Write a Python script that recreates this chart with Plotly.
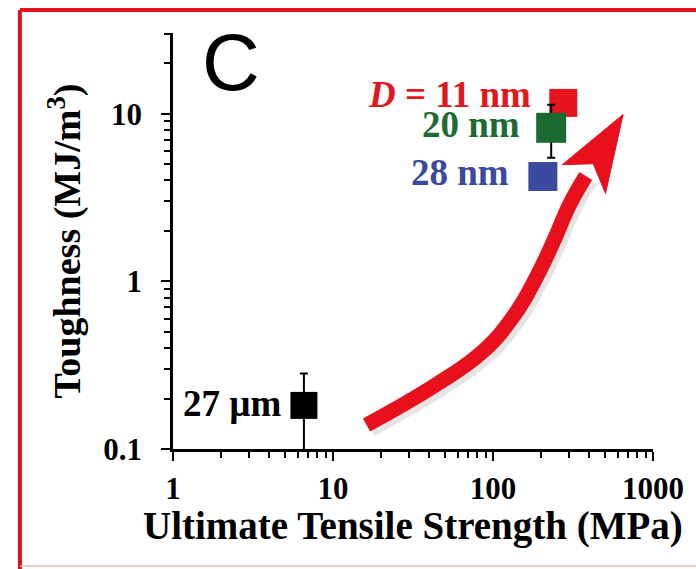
import numpy as np
import plotly.graph_objects as go

# ---- data ----
labels = ["27 µm", "<i>D</i> = 11 nm", "28 nm", "20 nm"]
strength = [6.58, 275, 205, 231]          # MPa
toughness = [0.182, 11.6, 4.22, 8.24]     # MJ/m^3
err_plus = [0.100, 0.0, 0.0, 3.06]
err_minus = [0.102, 0.0, 0.0, 2.77]
colors = ["#000000", "#e5141f", "#3b4aa0", "#1b6a30"]
text_colors = ["#000000", "#e3161e", "#3a4aa0", "#1d6b31"]
marker_sizes = [27, 28, 29, 30]
label_xshift = [-20, -30, -32, -29]
label_yshift = [2, 8, 4, 3]

x_ticks = [1, 10, 100, 1000]
y_ticks = [0.1, 1, 10]
y_tick_text = ["0.1", "1", "10"]

# trend arrow path (data coordinates)
arrow_x = [16.2, 43.5, 86, 136, 186, 240, 300, 380]
arrow_y = [0.139, 0.240, 0.380, 0.630, 1.05, 1.75, 2.85, 4.25]
arrow_tip = (650, 9.9)

serif = "Liberation Serif"
fig = go.Figure()

RED = "#e8101c"
# soft shadow of the arrow
fig.add_trace(go.Scatter(x=[v * 1.06 for v in arrow_x], y=[v * 0.945 for v in arrow_y], mode="lines",
                         line=dict(color="rgba(0,0,0,0.10)", width=16, shape="spline", smoothing=1.2),
                         hoverinfo="skip", showlegend=False))
# arrow shaft
fig.add_trace(go.Scatter(x=arrow_x, y=arrow_y, mode="lines",
                         line=dict(color=RED, width=15, shape="spline", smoothing=1.2),
                         hoverinfo="skip", showlegend=False))
# arrow head polygon computed in log space
lx, ly = np.log10(arrow_x[-1]), np.log10(arrow_y[-1])
tx, ty = np.log10(arrow_tip[0]), np.log10(arrow_tip[1])
d = np.array([tx - lx, ty - ly])
L = np.hypot(*d)
u = d / L
n = np.array([-u[1], u[0]])
hw = 0.16
T = np.array([tx, ty])
B = np.array([lx, ly])
pts = [T, B + hw * n - 0.05 * L * u, B + 0.2 * L * u, B - hw * n - 0.05 * L * u, T]
hx = [10 ** p[0] for p in pts]
hy = [10 ** p[1] for p in pts]
fig.add_trace(go.Scatter(x=hx, y=hy, mode="lines", fill="toself",
                         fillcolor=RED, line=dict(color=RED, width=1),
                         hoverinfo="skip", showlegend=False))

# data points
for i in range(len(labels)):
    fig.add_trace(go.Scatter(
        x=[strength[i]], y=[toughness[i]], mode="markers",
        marker=dict(symbol="square", size=marker_sizes[i], color=colors[i], line=dict(width=0)),
        error_y=dict(type="data", symmetric=False, array=[err_plus[i]], arrayminus=[err_minus[i]],
                     color="black", thickness=2, width=4, visible=err_plus[i] > 0),
        showlegend=False, hoverinfo="skip"))
    fig.add_annotation(x=np.log10(strength[i]), y=np.log10(toughness[i]), xref="x", yref="y",
                       text=labels[i], showarrow=False, xanchor="right", yanchor="middle",
                       xshift=label_xshift[i], yshift=label_yshift[i],
                       font=dict(family=serif, size=37, color=text_colors[i], weight="bold"))

minor_x = [m * 10 ** e for e in range(0, 3) for m in range(2, 10)]
minor_y = [m * 10 ** e for e in range(-1, 2) for m in range(2, 10) if m * 10 ** e <= 30]

fig.update_xaxes(type="log", range=[0, 3], tickvals=x_ticks, ticktext=[str(v) for v in x_ticks],
                 showline=True, linecolor="black", linewidth=2.5, showgrid=False, zeroline=False,
                 ticks="outside", ticklen=9, tickwidth=2, tickcolor="black",
                 ticklabelstandoff=1,
                 tickfont=dict(family=serif, size=31, color="black", weight="bold"),
                 minor=dict(tickvals=minor_x, ticks="outside", ticklen=6, tickwidth=1.5,
                            tickcolor="black", showgrid=False))
fig.update_yaxes(type="log", range=[-1, np.log10(30.3)], tickvals=y_ticks, ticktext=y_tick_text,
                 showline=True, linecolor="black", linewidth=2.5, showgrid=False, zeroline=False,
                 ticks="outside", ticklen=9, tickwidth=2, tickcolor="black",
                 ticklabelstandoff=13,
                 tickfont=dict(family=serif, size=31, color="black", weight="bold"),
                 minor=dict(tickvals=minor_y, ticks="outside", ticklen=6, tickwidth=1.5,
                            tickcolor="black", showgrid=False))

# axis titles and panel letter
fig.add_annotation(x=0.5, y=-0.185, xref="paper", yref="paper", showarrow=False,
                   text="Ultimate Tensile Strength (MPa)", xanchor="center", yanchor="middle",
                   font=dict(family=serif, size=39, color="black", weight="bold"))
fig.add_annotation(x=-0.226, y=0.5, xref="paper", yref="paper", showarrow=False, textangle=-90,
                   text="Toughness (MJ/m<sup>3</sup>)", xanchor="center", yanchor="middle",
                   font=dict(family=serif, size=38, color="black", weight="bold"))
fig.add_annotation(x=0.1214, y=0.93, xref="paper", yref="paper", showarrow=False,
                   text="C", xanchor="center", yanchor="middle",
                   font=dict(family="Liberation Sans", size=80, color="black"))

# red frame
fig.add_shape(type="line", xref="paper", yref="paper", x0=-0.3189, x1=-0.3189, y0=1.0553, y1=-0.29,
              line=dict(color="#e2101c", width=4))
fig.add_shape(type="line", xref="paper", yref="paper", x0=-0.3189, x1=1.09, y0=1.0553, y1=1.0553,
              line=dict(color="#e2101c", width=4))
fig.add_shape(type="line", xref="paper", yref="paper", x0=-0.3189, x1=1.09, y0=-0.2813, y1=-0.2813,
              line=dict(color="#f4b8bc", width=1.5))

fig.update_layout(width=696, height=569, autosize=False,
                  margin=dict(l=173, r=37, t=33, b=120),
                  plot_bgcolor="white", paper_bgcolor="white", showlegend=False)

fig.write_html("out.html", config={"displayModeBar": False},
               post_script="document.body.style.margin='0';")
